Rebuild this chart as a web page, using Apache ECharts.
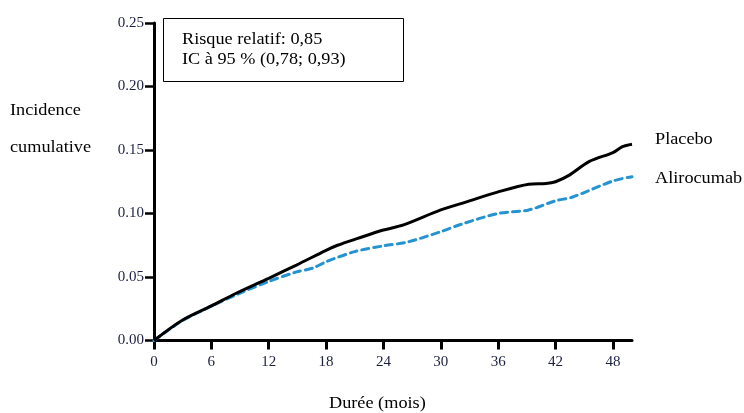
<!DOCTYPE html>
<html><head><meta charset="utf-8">
<script src="https://cdn.jsdelivr.net/npm/echarts@6/dist/echarts.min.js"></script>
<style>html,body{margin:0;padding:0;background:#fff}#c{width:744px;height:413px}</style>
</head><body><div id="c"></div>
<script>
var xTicks = [0, 6, 12, 18, 24, 30, 36, 42, 48];
var yTicks = [0, 0.05, 0.10, 0.15, 0.20, 0.25];
var placeboMonths = [0, 3, 6, 8.6, 12, 14.9, 18, 19.2, 21.3, 24, 26.1, 30, 32.6, 36, 39.2, 41, 42, 43.4, 45.5, 48, 49, 50];
var placeboValues = [0, 0.0161, 0.0272, 0.0372, 0.049, 0.0594, 0.071, 0.075, 0.0804, 0.087, 0.091, 0.1028, 0.109, 0.117, 0.123, 0.1236, 0.125, 0.130, 0.1408, 0.148, 0.1526, 0.1545];
var aliroMonths = [0, 3, 6, 8.9, 12, 14.9, 16.6, 18, 21, 24, 26.5, 30, 32.2, 36, 39.2, 42, 43.8, 48, 50];
var aliroValues = [0, 0.0158, 0.027, 0.037, 0.0465, 0.054, 0.057, 0.062, 0.070, 0.0745, 0.0775, 0.0857, 0.0917, 0.100, 0.1028, 0.110, 0.113, 0.1256, 0.129];

function pairs(xs, ys){ return xs.map(function(x,i){return [x, ys[i]];}); }
var serif = '"Liberation Serif", "DejaVu Serif", serif';
var SX = 1.14;
function txt(t, l, tp){ return {type:'text', left:l, top:tp, scaleX:SX, z:11,
  style:{text:t, font:'16px '+serif, fill:'#000'}}; }
var chart = echarts.init(document.getElementById('c'), null, {renderer:'canvas'});
chart.setOption({
  animation:false,
  backgroundColor:'#fff',
  grid:{left:154, right:112, top:23, bottom:72.5, containLabel:false},
  xAxis:{type:'value', min:0, max:50, interval:6,
    axisLine:{lineStyle:{color:'#000', width:3}},
    axisTick:{show:true, length:9, lineStyle:{color:'#000', width:3}, customValues:xTicks},
    axisLabel:{color:'#1c2040', fontFamily:serif, fontSize:15, margin:14, customValues:xTicks},
    splitLine:{show:false}},
  yAxis:{type:'value', min:0, max:0.25, interval:0.05,
    axisLine:{show:true, lineStyle:{color:'#000', width:3}},
    axisTick:{show:true, length:9, lineStyle:{color:'#000', width:2.5}, customValues:yTicks},
    axisLabel:{color:'#1c2040', fontFamily:serif, fontSize:15, margin:10, customValues:yTicks,
      formatter:function(v){return v.toFixed(2);}},
    splitLine:{show:false}},
  series:[
    {name:'Placebo', type:'line', data:pairs(placeboMonths, placeboValues), showSymbol:false, smooth:0.3,
      lineStyle:{color:'#000', width:3}, z:3},
    {name:'Alirocumab', type:'line', data:pairs(aliroMonths, aliroValues), showSymbol:false, smooth:0.3,
      lineStyle:{color:'#2493cf', width:3, type:[7,5], cap:'round'}, z:2}
  ],
  graphic:[
    {type:'rect', left:163, top:18, shape:{width:240, height:63}, style:{fill:'#fff', stroke:'#000', lineWidth:1}, z:10},
    txt('Risque relatif: 0,85', 182, 32),
    txt('IC à 95 % (0,78; 0,93)', 182, 52),
    txt('Incidence', 10, 103),
    txt('cumulative', 10, 140),
    txt('Placebo', 655, 132),
    txt('Alirocumab', 655, 171),
    txt('Durée (mois)', 329, 396)
  ]
});
</script></body></html>
